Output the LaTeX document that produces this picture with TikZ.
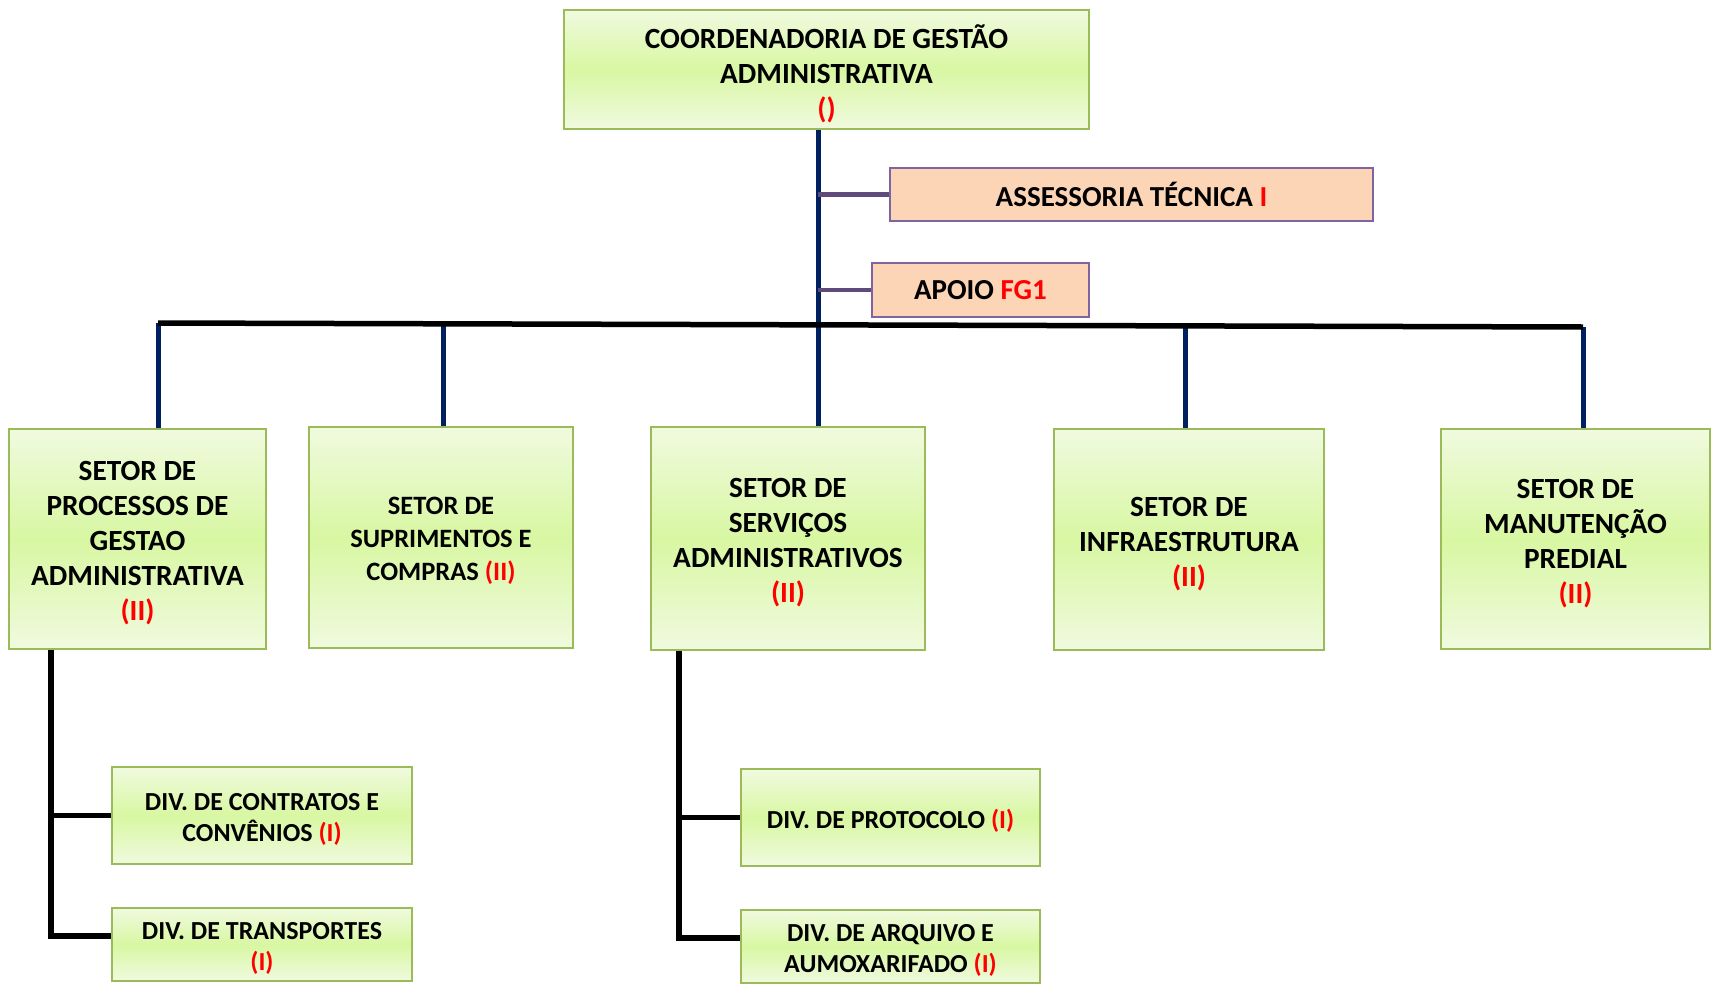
\documentclass[tikz,border=0pt]{standalone}
\usepackage{fontspec}
\setmainfont{Carlito}
\definecolor{navy}{HTML}{002060}
\definecolor{gborder}{HTML}{9BBB59}
\definecolor{glight}{HTML}{F0FADF}
\definecolor{gmid}{HTML}{D8F7A2}
\definecolor{peach}{HTML}{FBD5B5}
\definecolor{pborder}{HTML}{8064A2}
\definecolor{pline}{HTML}{5F4B7B}
\begin{document}
\begin{tikzpicture}[x=1pt,y=-1pt,
  gbox/.style={draw=gborder, line width=2pt, top color=glight, bottom color=glight, middle color=gmid,
    inner sep=0pt, anchor=north west},
  gtxt/.style={align=center, inner sep=0pt, font=\fontsize{29.3}{35}\selectfont\bfseries},
  gtxts/.style={gtxt, font=\fontsize{26.5}{33}\selectfont\bfseries},
  dtxt/.style={gtxt, font=\fontsize{26}{31}\selectfont\bfseries},
  pbox/.style={draw=pborder, line width=2pt, fill=peach, align=center, inner sep=0pt, anchor=north west,
    font=\fontsize{29}{35}\selectfont\bfseries},
  navyline/.style={draw=navy, line width=5pt},
  blackline/.style={draw=black, line width=5.5pt},
  purpline/.style={draw=pline, line width=4.5pt}]
\useasboundingbox (0,0) rectangle (1711,983);

% coordinates
\coordinate (jx) at (818,0);
\coordinate (hl) at (158,323);
\coordinate (hr) at (1583,327);
\coordinate (c1) at (158,323);
\coordinate (c2) at (443,324);
\coordinate (c4) at (1185,326);
\coordinate (c5) at (1583,327);
\coordinate (bl) at (51,0);
\coordinate (bm) at (679,0);
\coordinate (bl2) at (0,936);
\coordinate (bm2) at (0,938);

% boxes
\node[gbox, minimum width=525, minimum height=119] (top) at (563,9) {};
\node[pbox, minimum width=483, minimum height=53] (ass) at (889,167)
  {ASSESSORIA TÉCNICA \textcolor{red}{I}};
\node[pbox, minimum width=217, minimum height=54] (apo) at (871,262)
  {APOIO \textcolor{red}{FG1}};
\node[gbox, minimum width=257, minimum height=220] (s1) at (8,428) {};
\node[gbox, minimum width=264, minimum height=221] (s2) at (308,426) {};
\node[gbox, minimum width=274, minimum height=223] (s3) at (650,426) {};
\node[gbox, minimum width=270, minimum height=221] (s4) at (1053,428) {};
\node[gbox, minimum width=269, minimum height=220] (s5) at (1440,428) {};
\node[gbox, minimum width=300, minimum height=97] (d1) at (111,766) {};
\node[gbox, minimum width=300, minimum height=73] (d2) at (111,907) {};
\node[gbox, minimum width=299, minimum height=97] (d3) at (740,768) {};
\node[gbox, minimum width=299, minimum height=73] (d4) at (740,909) {};

% texts
\node[gtxt] (topt) at ([yshift=-4.5pt]top.center)
  {COORDENADORIA DE GESTÃO\\ADMINISTRATIVA\\\textcolor{red}{()}};
\node[gtxt] (s1t) at ([yshift=-4.5pt]s1.center)
  {SETOR DE\\PROCESSOS DE\\GESTAO\\ADMINISTRATIVA\\\textcolor{red}{(II)}};
\node[gtxts] (s2t) at ([yshift=-3.5pt]s2.center)
  {SETOR DE\\SUPRIMENTOS E\\COMPRAS \textcolor{red}{(II)}};
\node[gtxt] (s3t) at ([yshift=-4.5pt]s3.center)
  {SETOR DE\\SERVIÇOS\\ADMINISTRATIVOS\\\textcolor{red}{(II)}};
\node[gtxt] (s4t) at ([yshift=-4.5pt]s4.center)
  {SETOR DE\\INFRAESTRUTURA\\\textcolor{red}{(II)}};
\node[gtxt] (s5t) at ([yshift=-4.5pt]s5.center)
  {SETOR DE\\MANUTENÇÃO\\PREDIAL\\\textcolor{red}{(II)}};
\node[dtxt] (d1t) at ([yshift=-4pt]d1.center)
  {DIV. DE CONTRATOS E\\CONVÊNIOS \textcolor{red}{(I)}};
\node[dtxt] (d2t) at ([yshift=-3.5pt]d2.center)
  {DIV. DE TRANSPORTES\\\textcolor{red}{(I)}};
\node[dtxt] (d3t) at ([yshift=-3.5pt]d3.center)
  {DIV. DE PROTOCOLO \textcolor{red}{(I)}};
\node[dtxt] (d4t) at ([yshift=-3.5pt]d4.center)
  {DIV. DE ARQUIVO E\\AUMOXARIFADO \textcolor{red}{(I)}};

% connectors
\draw[navyline] (top.south -| jx) -- (s3.north -| jx);
\draw[purpline] (jx |- ass.west) -- (ass.west);
\draw[purpline] (jx |- apo.west) -- (apo.west);
\draw[navyline] (c1) -- (s1.north -| c1);
\draw[navyline] (c2) -- (s2.north -| c2);
\draw[navyline] (c4) -- (s4.north -| c4);
\draw[navyline] (c5) -- (s5.north -| c5);
\draw[blackline] (hl) -- (hr);

\draw[blackline] (s1.south -| bl) -- (bl |- bl2) -- (d2.west |- bl2);
\draw[blackline] (bl |- d1.west) -- (d1.west);
\draw[blackline] (s3.south -| bm) -- (bm |- bm2) -- (d4.west |- bm2);
\draw[blackline] (bm |- d3.west) -- (d3.west);
\end{tikzpicture}
\end{document}
